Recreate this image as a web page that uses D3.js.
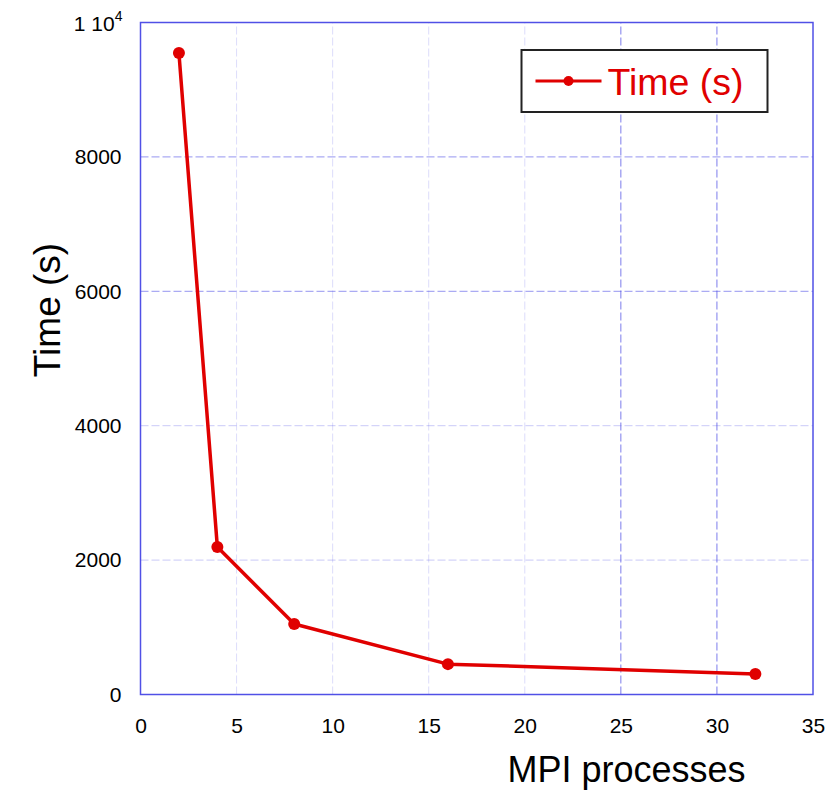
<!DOCTYPE html>
<html>
<head>
<meta charset="utf-8">
<script src="https://cdn.jsdelivr.net/npm/d3@7"></script>
<style>
  body { margin: 0; background: #fff; }
  svg { font-family: 'Liberation Sans', Arial, sans-serif; }
</style>
</head>
<body>
<div id="chart"></div>
<script>
// MPI processes vs wall time
const processes = [2, 4, 8, 16, 32]
const times = [9545, 2195, 1050, 452, 305]
const xTicks = [0, 5, 10, 15, 20, 25, 30, 35]
const yTicks = [0, 2000, 4000, 6000, 8000]
const seriesName = 'Time (s)'

const width = 838
const height = 792
const margin = { top: 22.5, right: 25, bottom: 97.5, left: 140.5 }
const red = '#e00000'
const blue = '#5050e6'

const svg = d3.select('#chart')
  .append('svg')
  .attr('width', width)
  .attr('height', height)

const x = d3.scaleLinear()
  .domain([0, 35])
  .range([margin.left, width - margin.right])

const y = d3.scaleLinear()
  .domain([0, 10000])
  .range([height - margin.bottom, margin.top])

// grid, dashed
const grid = svg.append('g')
grid.selectAll('line.vx')
  .data(xTicks.filter(d => d > 0 && d < 35))
  .join('line')
  .attr('x1', d => x(d))
  .attr('x2', d => x(d))
  .attr('y1', y(0))
  .attr('y2', y(10000))
  .attr('stroke', blue)
  .attr('stroke-opacity', d => d >= 25 ? 0.75 : 0.2)
  .attr('stroke-width', 1)
  .attr('stroke-dasharray', '8,3')

grid.selectAll('line.hy')
  .data(yTicks.filter(d => d > 0))
  .join('line')
  .attr('x1', x(0))
  .attr('x2', x(35))
  .attr('y1', d => y(d))
  .attr('y2', d => y(d))
  .attr('stroke', blue)
  .attr('stroke-opacity', d => d >= 6000 ? 0.6 : 0.3)
  .attr('stroke-width', 1)
  .attr('stroke-dasharray', '8,3')

// frame
svg.append('rect')
  .attr('x', x(0))
  .attr('y', y(10000))
  .attr('width', x(35) - x(0))
  .attr('height', y(0) - y(10000))
  .attr('fill', 'none')
  .attr('stroke', blue)
  .attr('stroke-width', 1.5)

// axes
const xAxis = svg.append('g')
  .attr('transform', `translate(0,${ y(0) })`)
  .call(d3.axisBottom(x).tickValues(xTicks).tickSize(0).tickPadding(24))
xAxis.select('.domain').remove()
xAxis.selectAll('text')
  .attr('font-size', 21)
  .attr('fill', '#000')
  .attr('font-family', "'Liberation Sans', Arial, sans-serif")

const yAxis = svg.append('g')
  .attr('transform', `translate(${ x(0) },0)`)
  .call(d3.axisLeft(y).tickValues(yTicks).tickSize(0).tickPadding(19).tickFormat(d3.format('d')))
yAxis.select('.domain').remove()
yAxis.selectAll('text')
  .attr('font-size', 21)
  .attr('fill', '#000')
  .attr('font-family', "'Liberation Sans', Arial, sans-serif")

// top tick "1 10^4"
const topLabel = svg.append('text')
  .attr('x', x(0) - 18)
  .attr('y', y(10000) + 8)
  .attr('text-anchor', 'end')
  .attr('font-size', 21)
topLabel.append('tspan').text('1 10')
topLabel.append('tspan').attr('font-size', 14).attr('dy', -10).text('4')

// line + markers
const line = d3.line()
  .x((d, i) => x(processes[i]))
  .y(d => y(d))

svg.append('path')
  .datum(times)
  .attr('d', line)
  .attr('fill', 'none')
  .attr('stroke', red)
  .attr('stroke-width', 3.5)
  .attr('stroke-linejoin', 'round')

svg.selectAll('circle.pt')
  .data(times)
  .join('circle')
  .attr('class', 'pt')
  .attr('cx', (d, i) => x(processes[i]))
  .attr('cy', d => y(d))
  .attr('r', 6)
  .attr('fill', red)

// axis titles
svg.append('text')
  .attr('x', 626.5)
  .attr('y', 782)
  .attr('text-anchor', 'middle')
  .attr('font-size', 36)
  .attr('fill', '#000')
  .text('MPI processes')

svg.append('text')
  .attr('transform', 'translate(60,310) rotate(-90)')
  .attr('text-anchor', 'middle')
  .attr('font-size', 37)
  .attr('fill', '#000')
  .text('Time (s)')

// legend
const lg = svg.append('g').attr('transform', 'translate(521.5,50)')
lg.append('rect')
  .attr('width', 246)
  .attr('height', 62)
  .attr('fill', '#fff')
  .attr('stroke', '#222')
  .attr('stroke-width', 2)
lg.append('line')
  .attr('x1', 14)
  .attr('x2', 80)
  .attr('y1', 31)
  .attr('y2', 31)
  .attr('stroke', red)
  .attr('stroke-width', 3)
lg.append('circle')
  .attr('cx', 47)
  .attr('cy', 31)
  .attr('r', 5)
  .attr('fill', red)
lg.append('text')
  .attr('x', 86)
  .attr('y', 44.5)
  .attr('font-size', 37.5)
  .attr('fill', red)
  .text(seriesName)
</script>
</body>
</html>
